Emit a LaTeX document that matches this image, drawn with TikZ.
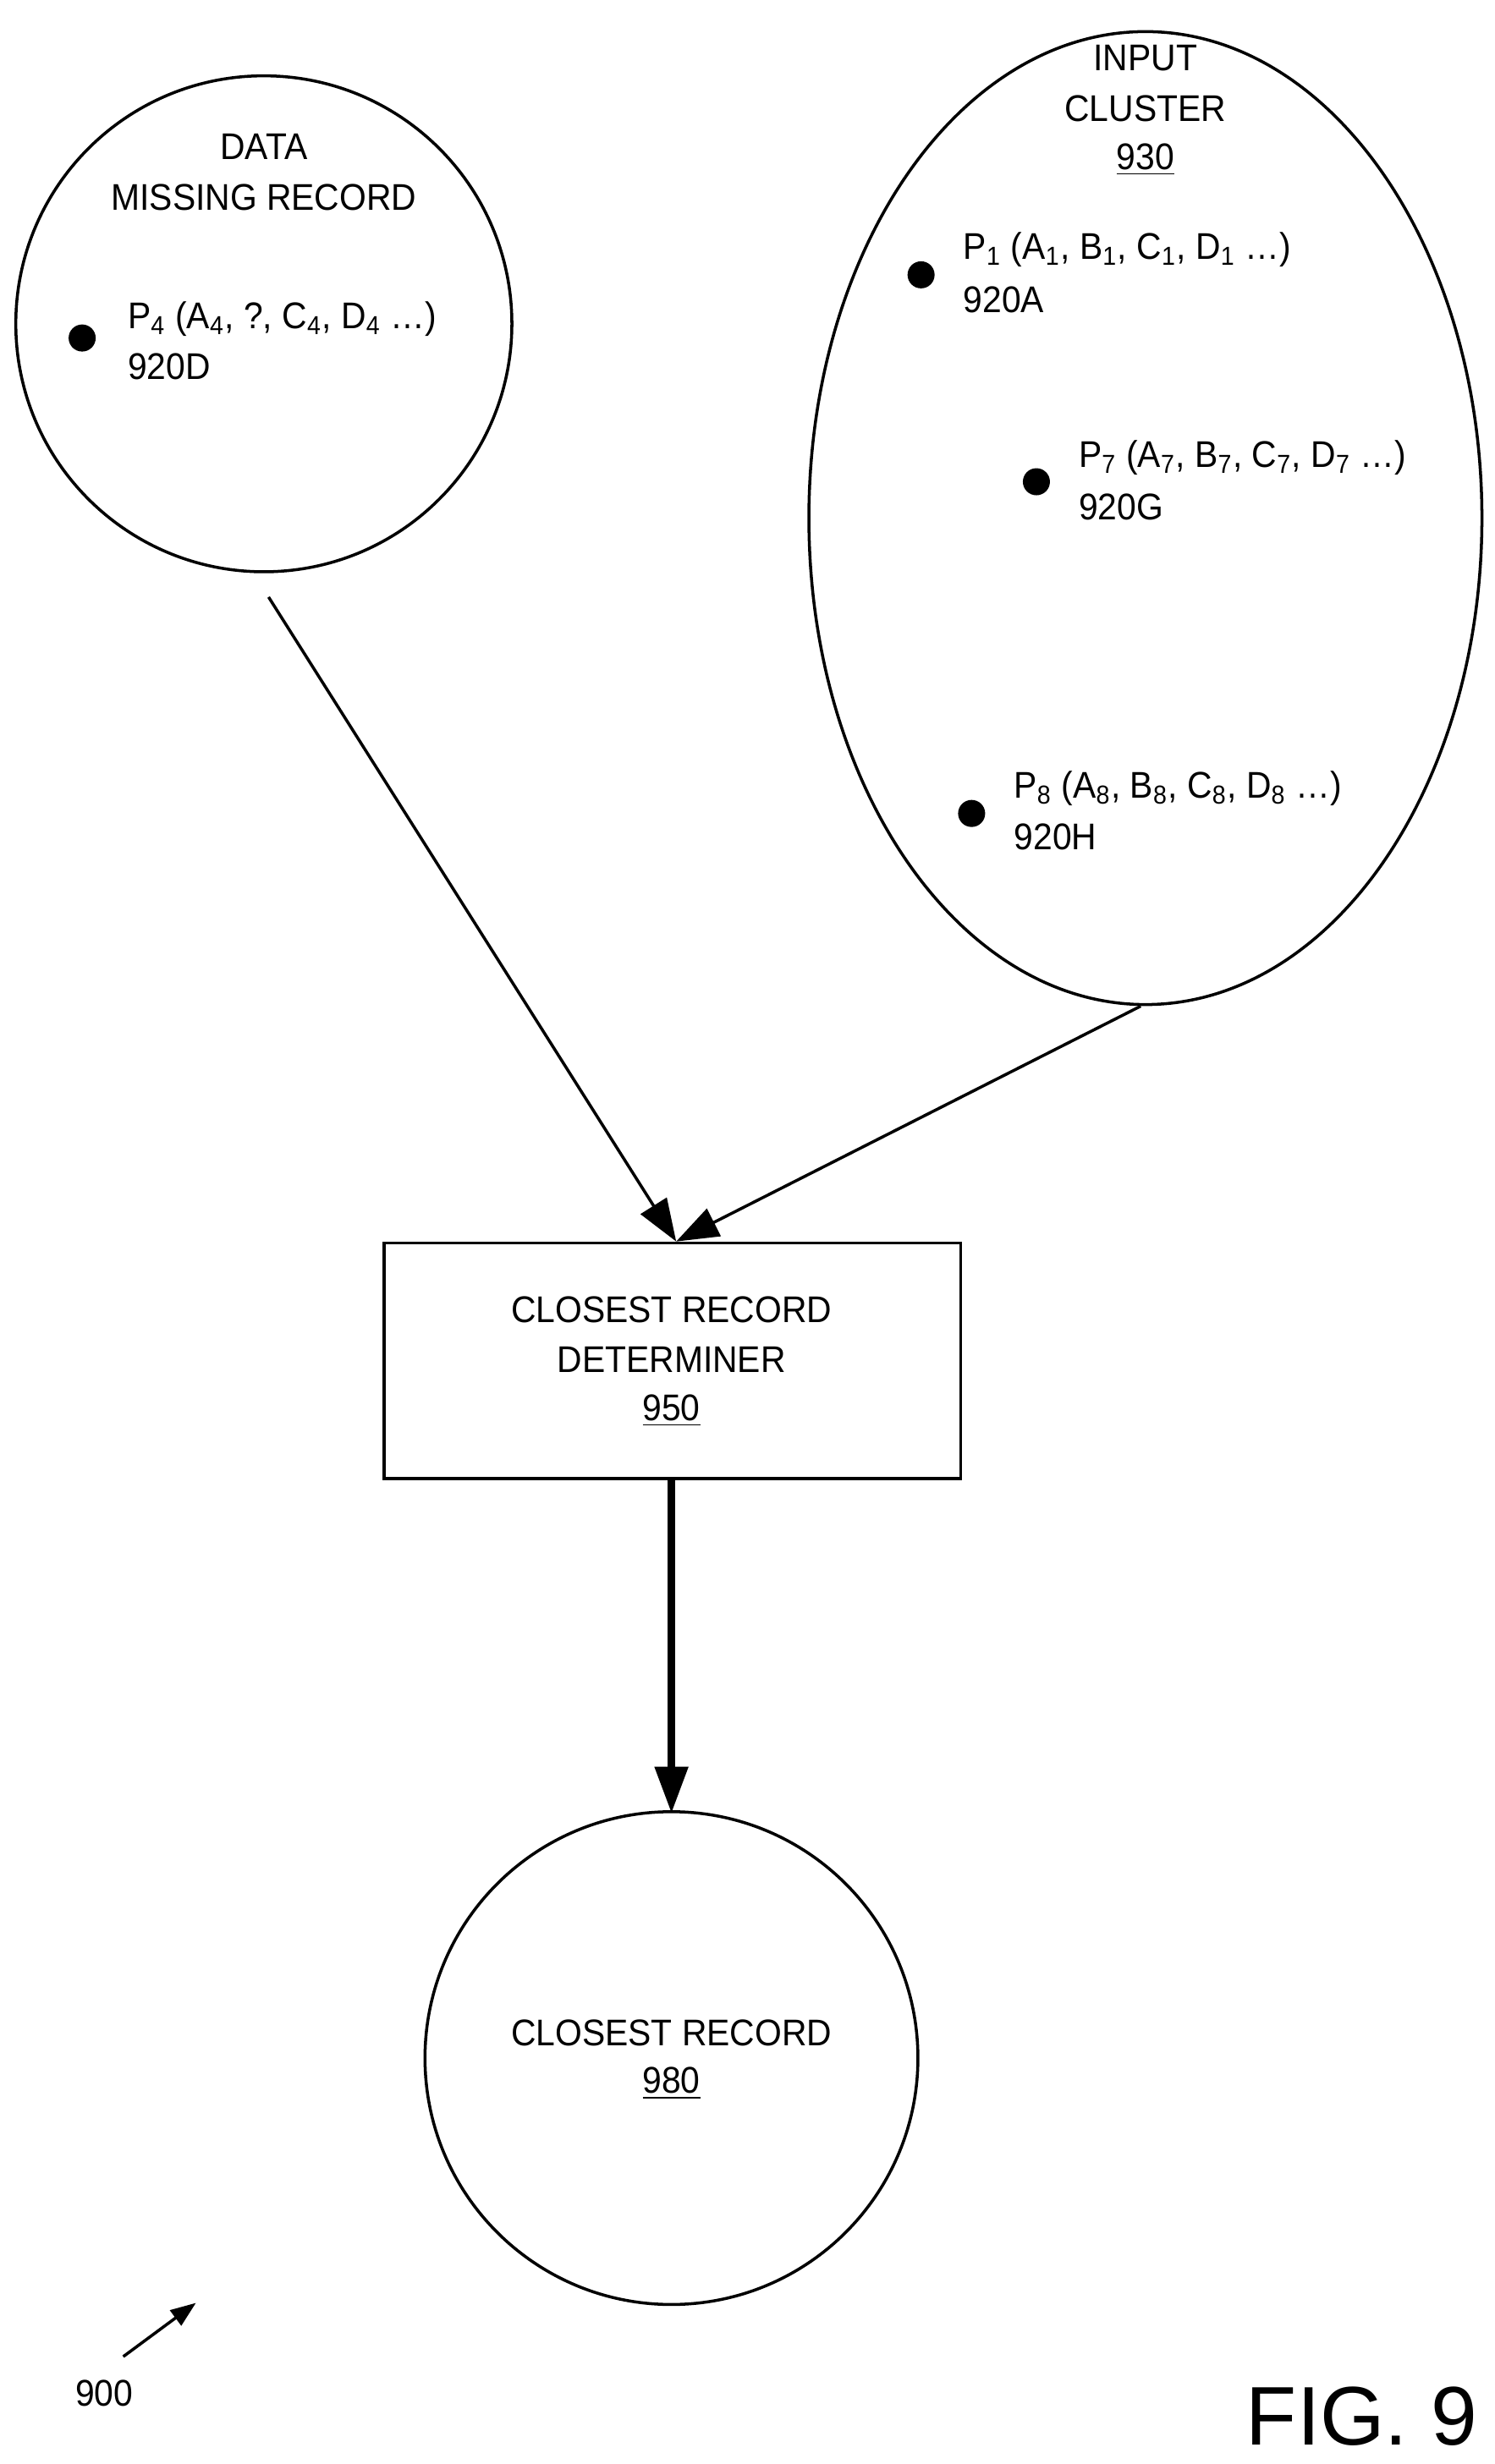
\documentclass[tikz,border=0pt]{standalone}
\usepackage{fontspec}
\setmainfont{Liberation Sans}
\usetikzlibrary{arrows.meta}
\tikzset{
	lbl/.style={font=\fontsize{12.5}{15}\selectfont, inner sep=0pt, xscale=0.93},
	dot/.style={circle, fill, inner sep=0pt, minimum size=0.32cm},
	flow/.style={line width=1pt, -{Triangle[length=0.5cm,width=0.36cm]}},
}
\newcommand{\sub}[1]{\textsubscript{#1}}
\begin{document}
\begin{tikzpicture}[x=0.01867cm,y=-0.01867cm, line width=1pt]
		\useasboundingbox (0,0) rectangle (946,1560);
		% data missing record
		\draw (167,205) circle (157);
		\node[lbl] (dmr1) at (167,93) {DATA};
		\node[lbl] (dmr2) at (167,125) {MISSING RECORD};
		\node[dot] (d4) at (52,214) {};
		\node[lbl, anchor=west] (p4) at (80,202) {P\sub{4} (A\sub{4}, ?, C\sub{4}, D\sub{4} \dots)};
		\node[lbl, anchor=west] at (80,232) {920D};
		% input cluster
		\draw (725,328) ellipse (213 and 308);
		\node[lbl] at (725,37) {INPUT};
		\node[lbl] at (725,69) {CLUSTER};
		\node[lbl] at (725,101) {\underline{930}};
		\node[dot] (d1) at (583,174) {};
		\node[lbl, anchor=west] (p1) at (609,158) {P\sub{1} (A\sub{1}, B\sub{1}, C\sub{1}, D\sub{1} \dots)};
		\node[lbl, anchor=west] at (609,190) {920A};
		\node[dot] (d7) at (656,305) {};
		\node[lbl, anchor=west] (p7) at (682,290) {P\sub{7} (A\sub{7}, B\sub{7}, C\sub{7}, D\sub{7} \dots)};
		\node[lbl, anchor=west] at (682,321) {920G};
		\node[dot] (d8) at (615,515) {};
		\node[lbl, anchor=west] (p8) at (641,499) {P\sub{8} (A\sub{8}, B\sub{8}, C\sub{8}, D\sub{8} \dots)};
		\node[lbl, anchor=west] at (641,530) {920H};
		% determiner
		\draw (243,787) rectangle (608,936);
		\node[lbl] (crd) at (425,829) {CLOSEST RECORD};
		\node[lbl] at (425,861) {DETERMINER};
		\node[lbl] at (425,893) {\underline{950}};
		\coordinate (ca) at (170,378);
		\coordinate (cb) at (722,637);
		\coordinate (top) at (428,786);
		\draw[flow] (ca) -- (top);
		\draw[flow] (cb) -- (top);
		% closest record
		\coordinate (bot) at (425,937);
		\coordinate (cr) at (425,1148);
		\draw[line width=2.4pt, -{Triangle[length=0.55cm,width=0.38cm]}] (bot) -- (cr);
		\draw (425,1303) circle (156);
		\node[lbl] at (425,1287) {CLOSEST RECORD};
		\node[lbl] at (425,1319) {\underline{980}};
		% figure label
		\node[lbl] (ref) at (66,1515) {900};
		\coordinate (r1) at (78,1492);
		\coordinate (r2) at (124,1458);
		\draw[-{Triangle[length=0.3cm,width=0.22cm]}] (r1) -- (r2);
		\node[font=\fontsize{28}{32}\selectfont, inner sep=0pt] at (862,1530) {FIG. 9};
\end{tikzpicture}
\end{document}
